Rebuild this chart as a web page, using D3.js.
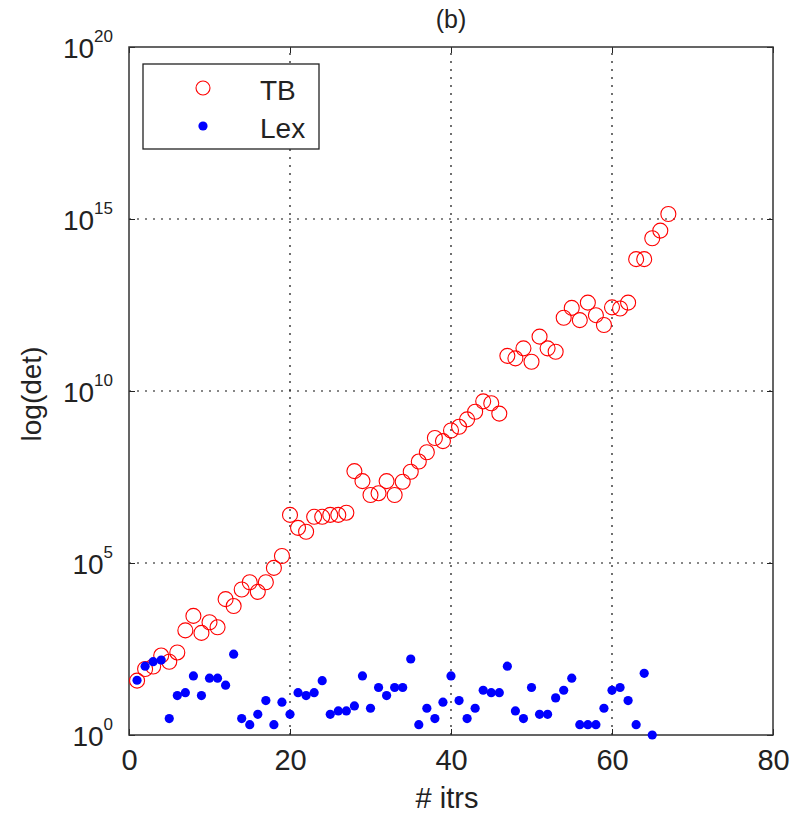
<!DOCTYPE html>
<html>
<head>
<meta charset="utf-8">
<script src="https://cdn.jsdelivr.net/npm/d3@7"></script>
<style>
  body { margin: 0; background: #fff; }
  svg text { font-family: Arial, "Liberation Sans", sans-serif; fill: #222; }
</style>
</head>
<body>
<svg id="chart" width="795" height="814"></svg>
<script>
// iteration numbers and determinant values
const tbItrs = d3.range(1, 68);
const tbDet = [
    38, 83, 98, 204, 135, 251, 1.1e3, 2.9e3, 9.3e2, 1.9e3,
    1.35e3, 8.9e3, 5.6e3, 1.7e4, 2.75e4, 1.45e4, 2.75e4, 7.2e4, 1.6e5, 2.5e6,
    1.05e6, 8.1e5, 2.2e6, 2.2e6, 2.5e6, 2.5e6, 2.9e6, 4.7e7, 2.4e7, 9.5e6,
    1.07e7, 2.4e7, 9.5e6, 2.3e7, 4.5e7, 8.9e7, 1.66e8, 4.3e8, 3.5e8, 7.1e8,
    9.1e8, 1.5e9, 2.5e9, 5.0e9, 4.4e9, 2.2e9, 1.05e11, 8.9e10, 1.74e11, 7.1e10,
    3.8e11, 1.74e11, 1.38e11, 1.35e12, 2.6e12, 1.15e12, 3.7e12, 1.6e12, 8.3e11, 2.7e12,
    2.5e12, 3.7e12, 6.8e13, 6.8e13, 2.75e14, 4.6e14, 1.4e15
];

const lexItrs = d3.range(1, 66);
const lexDet = [
    39, 100, 135, 151, 3, 14, 17, 52, 14, 45,
    45, 28, 224, 3, 2, 4, 10, 2, 9, 4,
    17, 14, 17, 38, 4, 5, 5, 7, 52, 6,
    24, 14, 24, 24, 162, 2, 6, 3, 9, 52,
    10, 3, 6, 20, 17, 17, 100, 5, 3, 24,
    4, 4, 12, 20, 45, 2, 2, 2, 6, 20,
    24, 10, 2, 62, 1
];

const xTicks = [0, 20, 40, 60, 80];
const yTicks = [1, 1e5, 1e10, 1e15, 1e20];
const seriesNames = ['TB', 'Lex'];

const svg = d3.select('#chart');
const margin = { left: 129, right: 22, top: 47, bottom: 79 };
const W = 795, H = 814;

const x = d3.scaleLinear().domain([0, 80]).range([margin.left, W - margin.right]);
const y = d3.scaleLog().domain([1, 1e20]).range([H - margin.bottom, margin.top]);

// grid lines (dotted, matlab style)
const grid = svg.append('g').attr('class', 'grid');
grid.selectAll('.gx')
    .data(xTicks.slice(1, -1))
    .enter()
    .append('line')
    .attr('x1', d => x(d)).attr('x2', d => x(d))
    .attr('y1', y(1)).attr('y2', y(1e20))
    .attr('stroke', '#111')
    .attr('stroke-width', 1.2)
    .attr('stroke-dasharray', '2,6');
grid.selectAll('.gy')
    .data(yTicks.slice(1, -1))
    .enter()
    .append('line')
    .attr('x1', x(0)).attr('x2', x(80))
    .attr('y1', d => y(d)).attr('y2', d => y(d))
    .attr('stroke', '#111')
    .attr('stroke-width', 1.2)
    .attr('stroke-dasharray', '2,6');

// axes
const xAxis = svg.append('g')
    .attr('transform', `translate(0,${y(1)})`)
    .call(d3.axisBottom(x).tickValues(xTicks).tickSizeInner(-6).tickSizeOuter(0).tickPadding(14));
xAxis.selectAll('text').attr('font-size', '29px');

const yAxis = svg.append('g')
    .attr('transform', `translate(${x(0)},0)`)
    .call(d3.axisLeft(y).tickValues(yTicks).tickSizeInner(-6).tickSizeOuter(0).tickPadding(16).tickFormat(() => ''));
yAxis.selectAll('.tick text')
    .attr('font-size', '28px')
    .attr('dy', '0.39em')
    .each(function(d) {
        const t = d3.select(this);
        t.append('tspan').text('10');
        t.append('tspan')
            .attr('font-size', '17px')
            .attr('dy', '-16')
            .text(Math.round(Math.log10(d)));
    });

// top and right ticks
svg.append('g')
    .attr('transform', `translate(0,${y(1e20)})`)
    .call(d3.axisTop(x).tickValues(xTicks).tickSizeInner(-6).tickSizeOuter(0).tickFormat(() => ''));
svg.append('g')
    .attr('transform', `translate(${x(80)},0)`)
    .call(d3.axisRight(y).tickValues(yTicks).tickSizeInner(-6).tickSizeOuter(0).tickFormat(() => ''));

svg.selectAll('.domain').remove();
svg.selectAll('.tick line').attr('stroke', '#222');

// frame
svg.append('rect')
    .attr('x', x(0)).attr('y', y(1e20))
    .attr('width', x(80) - x(0)).attr('height', y(1) - y(1e20))
    .attr('fill', 'none')
    .attr('stroke', '#333')
    .attr('stroke-width', 1.5);

// TB: open red circles
svg.append('g')
    .selectAll('circle')
    .data(tbItrs.map((it, i) => ({ it, v: tbDet[i] })))
    .enter()
    .append('circle')
    .attr('cx', d => x(d.it))
    .attr('cy', d => y(d.v))
    .attr('r', 7.5)
    .attr('fill', 'none')
    .attr('stroke', '#ff0000')
    .attr('stroke-width', 1.1);

// Lex: filled blue dots
svg.append('g')
    .selectAll('circle')
    .data(lexItrs.map((it, i) => ({ it, v: lexDet[i] })))
    .enter()
    .append('circle')
    .attr('cx', d => x(d.it))
    .attr('cy', d => y(d.v))
    .attr('r', 4.6)
    .attr('fill', '#0000ff');

// labels
svg.append('text')
    .attr('x', (x(0) + x(80)) / 2)
    .attr('y', 28)
    .attr('text-anchor', 'middle')
    .attr('font-size', '25px')
    .text('(b)');

svg.append('text')
    .attr('x', 447)
    .attr('y', 808)
    .attr('text-anchor', 'middle')
    .attr('font-size', '29px')
    .text('# itrs');

svg.append('text')
    .attr('transform', `translate(41,394) rotate(-90)`)
    .attr('text-anchor', 'middle')
    .attr('font-size', '28px')
    .text('log(det)');

// legend
const legend = svg.append('g').attr('transform', 'translate(143,64)');
legend.append('rect')
    .attr('width', 176).attr('height', 85)
    .attr('fill', '#fff')
    .attr('stroke', '#222')
    .attr('stroke-width', 1.3);
seriesNames.forEach((name, i) => {
    const cy = 24 + i * 38;
    if (i === 0) {
        legend.append('circle')
            .attr('cx', 60).attr('cy', cy).attr('r', 7)
            .attr('fill', 'none').attr('stroke', '#ff0000').attr('stroke-width', 1.1);
    } else {
        legend.append('circle')
            .attr('cx', 60).attr('cy', cy).attr('r', 4.6)
            .attr('fill', '#0000ff');
    }
    legend.append('text')
        .attr('x', 117).attr('y', cy + 12)
        .attr('font-size', '28px')
        .text(name);
});
</script>
</body>
</html>
